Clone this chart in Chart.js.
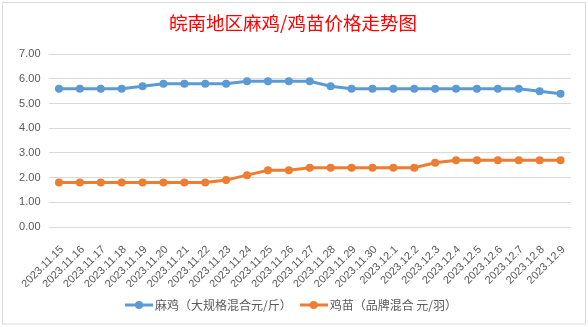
<!DOCTYPE html>
<html>
<head>
<meta charset="utf-8">
<title>皖南地区麻鸡/鸡苗价格走势图</title>
<script src="https://cdn.jsdelivr.net/npm/chart.js@4.4.1/dist/chart.umd.min.js"></script>
<style>
  html, body { margin: 0; padding: 0; background: #ffffff; }
  #wrap { width: 588px; height: 327px; }
</style>
</head>
<body>
<div id="wrap"><canvas id="priceChart" width="588" height="327"></canvas></div>
<script>
// Dates along the category axis
const dates = [
    '2023.11.15', '2023.11.16', '2023.11.17', '2023.11.18', '2023.11.19',
    '2023.11.20', '2023.11.21', '2023.11.22', '2023.11.23', '2023.11.24',
    '2023.11.25', '2023.11.26', '2023.11.27', '2023.11.28', '2023.11.29',
    '2023.11.30', '2023.12.1', '2023.12.2', '2023.12.3', '2023.12.4',
    '2023.12.5', '2023.12.6', '2023.12.7', '2023.12.8', '2023.12.9'
];

// 麻鸡 price, yuan per jin
const majiPrices = [
    5.6, 5.6, 5.6, 5.6, 5.7, 5.8, 5.8, 5.8, 5.8, 5.9, 5.9, 5.9, 5.9,
    5.7, 5.6, 5.6, 5.6, 5.6, 5.6, 5.6, 5.6, 5.6, 5.6, 5.5, 5.4
];

// 鸡苗 price, yuan per chick
const jimiaoPrices = [
    1.8, 1.8, 1.8, 1.8, 1.8, 1.8, 1.8, 1.8, 1.9, 2.1, 2.3, 2.3, 2.4,
    2.4, 2.4, 2.4, 2.4, 2.4, 2.6, 2.7, 2.7, 2.7, 2.7, 2.7, 2.7
];

const seriesNames = ['麻鸡（大规格混合元/斤）', '鸡苗（品牌混合 元/羽）'];
const yTicks = { min: 0, max: 7, step: 1 };

const BLUE = '#5B9BD5';
const ORANGE = '#ED7D31';
const GRID = '#d9d9d9';
const TEXT = '#595959';

// Little "line with a dot" picture used as the legend marker
function legendMarker(color) {
    const c = document.createElement('canvas');
    c.width = 28;
    c.height = 10;
    const g = c.getContext('2d');
    g.strokeStyle = color;
    g.lineWidth = 3;
    g.beginPath();
    g.moveTo(0, 5);
    g.lineTo(28, 5);
    g.stroke();
    g.fillStyle = color;
    g.beginPath();
    g.arc(14, 5, 4, 0, Math.PI * 2);
    g.fill();
    return c;
}
const markers = [legendMarker(BLUE), legendMarker(ORANGE)];

// White sheet with the thin grey chart border
const chartFrame = {
    id: 'chartFrame',
    beforeDraw: function (chart) {
        const ctx = chart.ctx;
        ctx.save();
        ctx.fillStyle = '#ffffff';
        ctx.fillRect(0, 0, chart.width, chart.height);
        ctx.strokeStyle = GRID;
        ctx.lineWidth = 1;
        ctx.strokeRect(2.5, 2.5, 583, 321.5);
        ctx.restore();
    }
};

const ctx = document.getElementById('priceChart').getContext('2d');
new Chart(ctx, {
    type: 'line',
    data: {
        labels: dates,
        datasets: [
            {
                label: seriesNames[0],
                data: majiPrices,
                borderColor: BLUE,
                backgroundColor: BLUE,
                borderWidth: 3,
                pointRadius: 4,
                pointHoverRadius: 4,
                pointBorderWidth: 0,
                tension: 0
            },
            {
                label: seriesNames[1],
                data: jimiaoPrices,
                borderColor: ORANGE,
                backgroundColor: ORANGE,
                borderWidth: 3,
                pointRadius: 4,
                pointHoverRadius: 4,
                pointBorderWidth: 0,
                tension: 0
            }
        ]
    },
    options: {
        responsive: false,
        animation: false,
        devicePixelRatio: 1,
        layout: { padding: { left: 15, right: 17, top: 0, bottom: 6 } },
        plugins: {
            title: {
                display: true,
                text: '皖南地区麻鸡/鸡苗价格走势图',
                color: '#ff0000',
                font: { family: '"Noto Sans CJK SC", sans-serif', size: 18.5, weight: 'normal' },
                padding: { top: 12, bottom: 20 }
            },
            legend: {
                position: 'bottom',
                labels: {
                    usePointStyle: true,
                    pointStyleWidth: 20,
                    color: TEXT,
                    font: { family: '"Noto Sans CJK SC", sans-serif', size: 12 },
                    padding: 12,
                    generateLabels: function (chart) {
                        const items = Chart.defaults.plugins.legend.labels.generateLabels(chart);
                        items.forEach(function (item, i) {
                            item.pointStyle = markers[i];
                        });
                        return items;
                    }
                }
            },
            tooltip: { enabled: false }
        },
        scales: {
            x: {
                offset: true,
                grid: { display: false },
                border: { display: false },
                ticks: {
                    autoSkip: false,
                    minRotation: 45,
                    maxRotation: 45,
                    padding: 8,
                    labelOffset: 3,
                    color: TEXT,
                    font: { family: '"Liberation Sans", Arial, sans-serif', size: 11 }
                },
                afterFit: function (scale) {
                    scale.height = 60;
                }
            },
            y: {
                min: yTicks.min,
                max: yTicks.max,
                border: { display: false },
                grid: { color: GRID, drawTicks: false },
                ticks: {
                    stepSize: yTicks.step,
                    padding: 8,
                    color: TEXT,
                    font: { family: '"Liberation Sans", Arial, sans-serif', size: 11 },
                    callback: function (v) { return v.toFixed(2); }
                },
                afterFit: function (scale) {
                    scale.width = 33.5;
                }
            }
        }
    },
    plugins: [chartFrame]
});
</script>
</body>
</html>
